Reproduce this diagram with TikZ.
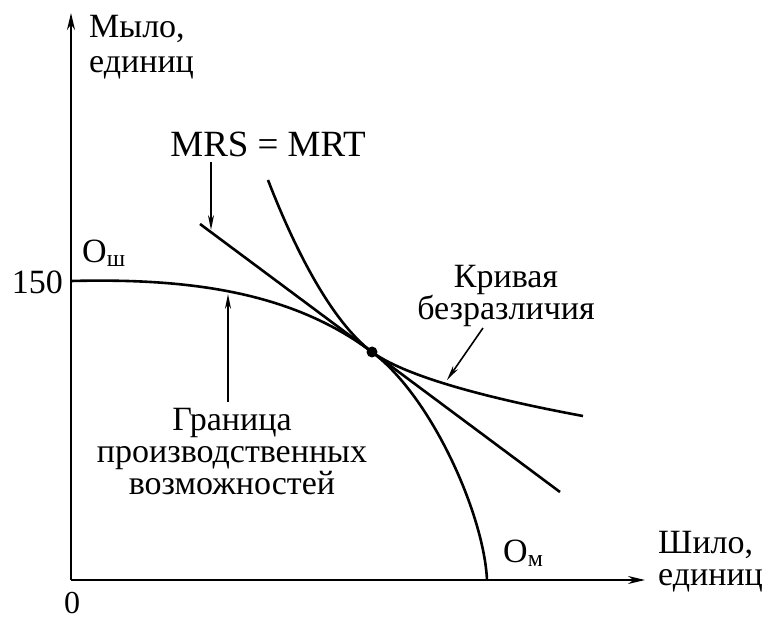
\documentclass[tikz,border=0pt]{standalone}
\usepackage{amsmath}
\usepackage{fontspec}
\setmainfont{Liberation Serif}
\usetikzlibrary{positioning}
\usetikzlibrary{arrows.meta}

\begin{document}
\begin{tikzpicture}[x=1pt,y=-1pt,
    curve/.style={line width=2.6pt},
    axis/.style={line width=2.2pt,-{Stealth[length=17pt,width=8pt]}},
    pointer/.style={line width=1.6pt,-{Stealth[length=15pt,width=6pt]}},
    lbl/.style={font=\fontsize{34}{32}\selectfont,inner sep=0pt,align=center}]
    \useasboundingbox (0,0) rectangle (769,620);

    % axes
    \coordinate (O) at (71,580);
    \coordinate (ytip) at (71,13);
    \coordinate (xtip) at (645,580);
    \draw[axis] (O) -- (ytip);
    \draw[axis] (O) -- (xtip);

    \node[lbl,anchor=north west,align=left] (ylab) at (89,15) {Мыло,\\[3pt]единиц};
    \node[lbl,anchor=north west,align=left] (xlab) at (658,531) {Шило,\\единиц};
    \node[lbl,anchor=south,font=\fontsize{32}{32}\selectfont] (zero) at (72,614) {0};
    \node[lbl,anchor=east] (v150) at (63,282) {150};

    % curves
    \coordinate (Osh) at (71,281);
    \coordinate (T) at (372,352);
    \coordinate (Om) at (487,580);
    \coordinate (ic1) at (268,180);
    \coordinate (ic2) at (583,416);
    \coordinate (tl1) at (200,224);
    \coordinate (tl2) at (560,492);

    \draw[curve] (Osh) .. controls (190,278) and (292,292) .. (T)
                       .. controls (432,397) and (484,515) .. (Om);
    \draw[curve] (ic1) .. controls (295,250) and (332,322) .. (T)
                       .. controls (402,374) and (475,396) .. (ic2);
    \draw[curve] (tl1) -- (tl2);
    \fill (T) circle (5.5pt);

    \node[lbl,anchor=north west] (osh) at (82,240) {O$_{\text{ш}}$};
    \node[lbl,anchor=north west] (om) at (503,540) {O$_{\text{м}}$};

    % labels and pointers
    \node[lbl,anchor=north,font=\fontsize{37}{33}\selectfont] (mrs) at (268,132) {MRS\hspace{9pt}= MRT};
    \coordinate (mrsa) at (211,162);
    \coordinate (mrsb) at (211,230);
    \draw[pointer] (mrsa) -- (mrsb);

    \node[lbl,anchor=north] (ic) at (506,265) {Кривая\\безразличия};
    \coordinate (ica) at (483,328);
    \coordinate (icb) at (447,380);
    \draw[pointer] (ica) -- (icb);

    \node[lbl,anchor=north] (ppf) at (232,408) {Граница\\производственных\\возможностей};
    \coordinate (ppfa) at (228,402);
    \coordinate (ppfb) at (228,294);
    \draw[pointer] (ppfa) -- (ppfb);
\end{tikzpicture}
\end{document}
